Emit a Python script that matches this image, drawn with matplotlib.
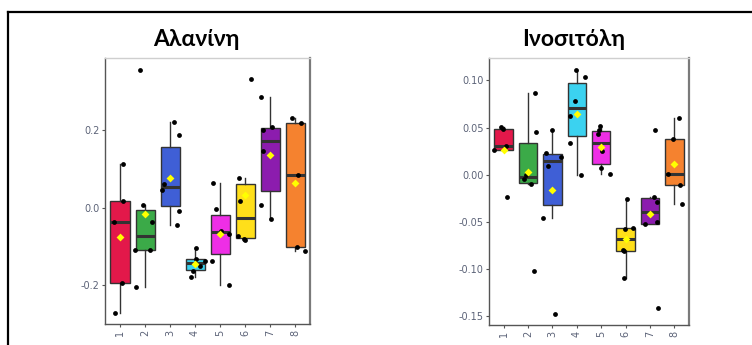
import matplotlib
matplotlib.use("Agg")
from matplotlib import pyplot as plt
from matplotlib.lines import Line2D

groups = ["1", "2", "3", "4", "5", "6", "7", "8"]
colors = ["#E3184A", "#3BAA48", "#3F5FD6", "#3BD2F0",
          "#EE2EE6", "#FFDF1A", "#8C1CAE", "#F5822F"]

# Αλανίνη - measured values per group
alanine = [
    [0.112, 0.017, -0.037, -0.193, -0.271],
    [0.355, 0.006, -0.038, -0.109, -0.109, -0.205],
    [0.222, 0.188, 0.060, 0.046, -0.009, -0.045],
    [-0.104, -0.132, -0.137, -0.150, -0.163, -0.178],
    [0.064, -0.004, -0.060, -0.068, -0.138, -0.200],
    [0.331, 0.076, 0.018, -0.072, -0.083, -0.081],
    [0.286, 0.200, 0.208, 0.145, 0.008, -0.029],
    [0.230, 0.218, 0.083, -0.102, -0.111],
]
# horizontal jitter of the dots (fraction of category spacing)
alanine_jitter = [
    [0.12, 0.12, -0.25, 0.07, -0.20],
    [-0.19, -0.07, 0.28, -0.39, 0.19, -0.35],
    [0.15, 0.35, -0.25, -0.34, 0.36, 0.27],
    [0.05, 0.05, 0.39, 0.19, -0.08, -0.18],
    [-0.28, -0.16, 0.04, 0.36, -0.32, 0.36],
    [0.23, -0.26, -0.22, -0.29, 0.00, -0.03],
    [-0.36, -0.29, 0.07, -0.29, -0.38, 0.02],
    [-0.13, 0.25, 0.10, 0.07, 0.38],
]

# Ινοσιτόλη
inositol = [
    [0.0505, 0.048, 0.0307, 0.0258, -0.024],
    [0.0865, 0.0448, -0.0042, 0.0, -0.0099, -0.102],
    [0.047, 0.023, 0.0092, 0.0191, -0.0459, -0.147],
    [0.111, 0.103, 0.0784, 0.0625, 0.0335, -0.0004],
    [0.0519, 0.0477, 0.0427, 0.0247, 0.0074, 0.0007],
    [-0.0254, -0.0572, -0.0565, -0.0798, -0.0812, -0.1088],
    [0.0477, -0.0233, -0.0286, -0.0501, -0.0526, -0.141],
    [0.0597, 0.0378, 0.0004, -0.0113, -0.0307],
]
inositol_jitter = [
    [-0.10, -0.04, 0.08, -0.38, 0.15],
    [0.30, 0.34, -0.18, -0.08, 0.12, 0.25],
    [0.00, -0.25, -0.19, 0.36, -0.37, 0.10],
    [-0.04, 0.33, -0.07, -0.29, -0.29, 0.16],
    [-0.04, -0.08, -0.14, 0.04, 0.01, 0.36],
    [0.07, -0.03, 0.29, -0.12, -0.07, -0.07],
    [0.22, 0.16, 0.30, 0.27, -0.20, 0.33],
    [0.19, -0.05, -0.25, 0.23, 0.33],
]

alanine_ticks = [-0.2, 0.0, 0.2]
alanine_labels = ["-0.2", "0.0", "0.2"]
inositol_ticks = [-0.15, -0.10, -0.05, 0.00, 0.05, 0.10]
inositol_labels = ["-0.15", "-0.10", "-0.05", "0.00", "0.05", "0.10"]

tick_color = "#5c6378"
edge = "#333333"


def draw_panel(ax, data, jitter, ylim, ticks, labels):
    pos = list(range(1, len(groups) + 1))
    bp = ax.boxplot(data, positions=pos, widths=0.76, patch_artist=True,
                    showfliers=False, whis=1.5,
                    medianprops=dict(color=edge, linewidth=2.2),
                    whiskerprops=dict(color=edge, linewidth=1.0),
                    capprops=dict(linewidth=0),
                    boxprops=dict(edgecolor=edge, linewidth=1.0))
    for patch, c in zip(bp["boxes"], colors):
        patch.set_facecolor(c)
    for i, (vals, jit) in enumerate(zip(data, jitter)):
        xs = [pos[i] + j for j in jit]
        ax.scatter(xs, vals, s=12, color="black", zorder=4, linewidths=0)
    means = [sum(v) / len(v) for v in data]
    ax.scatter(pos, means, marker="D", s=16, color="#FFFF00",
               zorder=5, linewidths=0)
    ax.set_xlim(0.4, 8.6)
    ax.set_ylim(*ylim)
    ax.set_xticks(pos)
    ax.set_xticklabels(groups, rotation=90)
    ax.set_yticks(ticks)
    ax.set_yticklabels(labels)
    ax.tick_params(axis="both", labelsize=7, colors="#555555",
                   labelcolor=tick_color, length=2.5, width=0.8, pad=1.5)
    ax.spines["left"].set_color("#555555")
    ax.spines["bottom"].set_color("#555555")
    ax.spines["top"].set_color("#cfcfcf")
    ax.spines["right"].set_color("#7a7a7a")
    ax.spines["right"].set_linewidth(1.6)
    for s in ["left", "bottom", "top"]:
        ax.spines[s].set_linewidth(1.0)


W, H = 752, 345
fig = plt.figure(figsize=(W / 100, H / 100), dpi=100)

ax1 = fig.add_axes([105 / W, 1 - 324 / H, 205 / W, 266 / H])
draw_panel(ax1, alanine, alanine_jitter, (-0.30, 0.386),
           alanine_ticks, alanine_labels)

ax2 = fig.add_axes([489 / W, 1 - 325 / H, 200 / W, 267 / H])
draw_panel(ax2, inositol, inositol_jitter, (-0.159, 0.1236),
           inositol_ticks, inositol_labels)

fig.text(196 / W, 1 - 46 / H, "Αλανίνη", ha="center", va="baseline",
         fontsize=16.5, fontweight="bold", family="Lato")
fig.text(574 / W, 1 - 46 / H, "Ινοσιτόλη", ha="center", va="baseline",
         fontsize=16.5, fontweight="bold", family="Lato")

# surrounding frame (continues past the right and bottom edges)
fig.add_artist(Line2D([8 / W, 8 / W], [1 - 11.5 / H, -0.05], color="black",
                      linewidth=1.6, transform=fig.transFigure))
fig.add_artist(Line2D([8 / W, 1.05], [1 - 11.5 / H, 1 - 11.5 / H],
                      color="black", linewidth=1.6,
                      transform=fig.transFigure))

fig.savefig("out.png", dpi=100)
